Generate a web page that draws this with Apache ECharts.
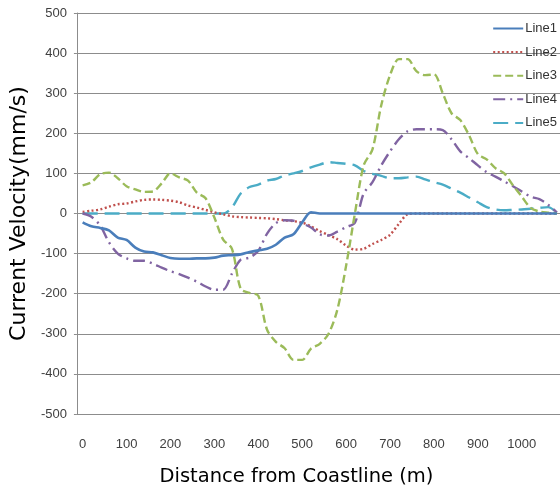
<!DOCTYPE html>
<html>
<head>
<meta charset="utf-8">
<script src="https://cdn.jsdelivr.net/npm/echarts@6/dist/echarts.min.js"></script>
<style>
html,body{margin:0;padding:0;background:#fff;}
#chart{width:560px;height:492px;}
</style>
</head>
<body>
<div id="chart"></div>
<script>
const distance = [0,20,40,60,80,100,120,140,160,180,200,220,240,260,280,300,320,340,360,380,400,420,440,460,480,500,520,540,560,580,600,620,640,660,680,700,720,740,760,780,800,820,840,860,880,900,920,940,960,980,1000,1020,1040,1060,1080];
const line1 = [-22,-32,-36,-42,-60,-66,-85,-95,-97,-104,-111,-113,-113,-112,-112,-110,-105,-104,-102,-96,-92,-88,-78,-60,-52,-22,3,0,0,0,0,0,0,0,0,0,0,0,0,0,0,0,0,0,0,0,0,0,0,0,0,0,0,0,0];
const line2 = [4,7,10,17,23,25,30,34,35,34,32,28,20,15,9,3,-2,-7,-9,-10,-11,-12,-14,-17,-19,-23,-32,-44,-54,-64,-80,-90,-88,-76,-66,-53,-26,-2,0,0,0,0,0,0,0,0,0,0,0,0,0,0,0,0,0];
const line3 = [70,78,98,102,88,68,60,54,55,75,100,90,82,52,38,-10,-65,-88,-188,-198,-205,-290,-320,-336,-365,-365,-337,-325,-300,-240,-130,0,120,160,270,345,385,385,355,345,347,300,250,233,195,148,135,113,100,70,42,14,5,2,0];
const line4 = [0,-8,-30,-72,-100,-112,-118,-118,-125,-135,-144,-151,-160,-170,-182,-190,-190,-150,-115,-110,-93,-50,-24,-17,-18,-25,-35,-52,-55,-45,-34,-23,50,78,120,155,185,205,210,210,210,208,185,155,138,120,103,92,80,68,55,42,36,22,2];
const line5 = [0,0,0,0,0,0,0,0,0,0,0,0,0,0,0,0,0,15,50,66,72,82,86,95,100,106,115,122,128,126,124,120,106,99,94,88,88,90,92,85,78,72,62,52,40,28,16,10,8,9,10,12,14,16,2];
const seriesNames = ['Line1','Line2','Line3','Line4','Line5'];
const xTicks = [0,100,200,300,400,500,600,700,800,900,1000];
const yTicks = [-500,-400,-300,-200,-100,0,100,200,300,400,500];

const colors = ['#4a7ebb','#c0504d','#9bbb59','#8064a2','#4bacc6'];
const styles = [
  {type:'solid', width:2.6},
  {type:[2,2.5], width:2.4},
  {type:[8,4], width:2.4},
  {type:[12,5,2,5], width:2.4},
  {type:[15,7], width:2.4}
];
const values = [line1,line2,line3,line4,line5];
const narrow = "'Liberation Sans Narrow', 'Liberation Sans', sans-serif";

const chart = echarts.init(document.getElementById('chart'), null, {renderer:'canvas'});
const option = {
  animation:false,
  backgroundColor:'#fff',
  grid:{left:66, right:0, top:13, bottom:76},
  legend:{
    orient:'vertical', right:3, top:22, padding:0,
    itemWidth:30, itemHeight:14, itemGap:10.6,
    data:seriesNames,
    itemStyle:{opacity:0},
    textStyle:{fontFamily:narrow, fontSize:13, color:'#333', padding:[0,0,0,-3]}
  },
  xAxis:{
    type:'value', min:-13, max:1087,
    name:'Distance from Coastline (m)',
    nameLocation:'middle', nameGap:53,
    nameTextStyle:{fontFamily:'DejaVu Sans', fontSize:19.5, color:'#000', padding:[0,44,0,0]},
    axisLine:{show:false, onZero:false},
    axisTick:{show:false},
    splitLine:{show:false},
    axisLabel:{customValues:xTicks, margin:24, fontFamily:narrow, fontSize:13, color:'#404040', formatter:(v)=>String(v)}
  },
  yAxis:{
    type:'value', min:yTicks[0], max:yTicks[yTicks.length-1], interval:100,
    name:'Current Velocity(mm/s)',
    nameLocation:'middle', nameGap:44,
    nameTextStyle:{fontFamily:'DejaVu Sans', fontSize:22, color:'#000'},
    axisLine:{show:true, onZero:false, lineStyle:{color:'#8c8c8c', width:1}},
    axisTick:{show:true, length:3, lineStyle:{color:'#8c8c8c'}},
    splitLine:{show:true, lineStyle:{color:'#8c8c8c', width:1}},
    axisLabel:{margin:10, fontFamily:narrow, fontSize:13, color:'#404040', formatter:(v)=>String(v)}
  },
  series: seriesNames.map((n,i)=>({
    name:n, type:'line', symbol:'none', smooth:0.3,
    color:colors[i],
    lineStyle:{color:colors[i], type:styles[i].type, width:styles[i].width},
    data: distance.map((d,k)=>[d, values[i][k]]),
    z: [5,2,4,3,1][i]
  }))
};
chart.setOption(option);
</script>
</body>
</html>
